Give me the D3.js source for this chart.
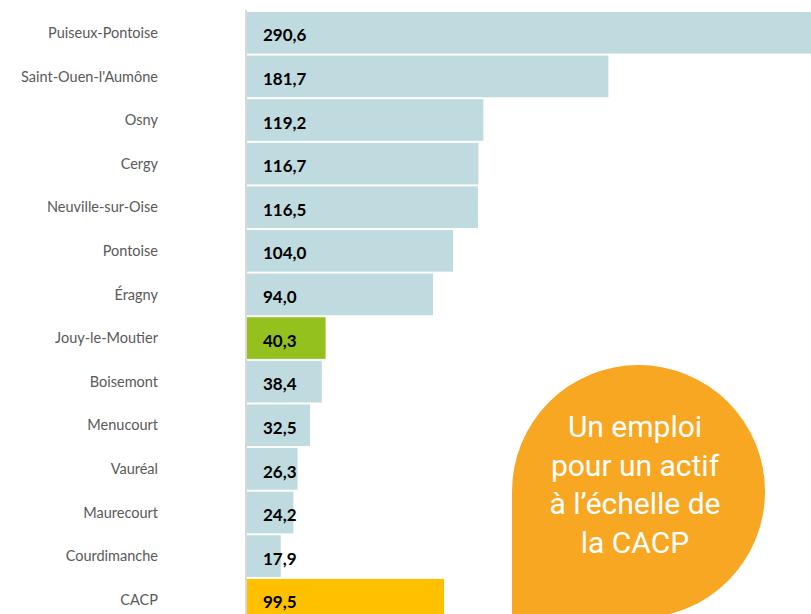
<!DOCTYPE html>
<html>
<head>
<meta charset="utf-8">
<script src="https://cdn.jsdelivr.net/npm/d3@7"></script>
<style>
  body { margin: 0; background: #fff; }
  svg { display: block; }
</style>
</head>
<body>
<div id="chart"></div>
<script>
// communes and their ratio (emplois pour 100 actifs)
var communes = ["Puiseux-Pontoise", "Saint-Ouen-l'Aumône", "Osny", "Cergy", "Neuville-sur-Oise",
    "Pontoise", "Éragny", "Jouy-le-Moutier", "Boisemont", "Menucourt", "Vauréal",
    "Maurecourt", "Courdimanche", "CACP"];
var valeurs = [290.6, 181.7, 119.2, 116.7, 116.5, 104.0, 94.0, 40.3, 38.4, 32.5, 26.3, 24.2, 17.9, 99.5];
var bulle = ["Un emploi", "pour un actif", "à l’échelle de", "la CACP"];

var width = 811, height = 614;

var svg = d3.select("#chart").append("svg")
    .attr("width", width)
    .attr("height", height);

var y = d3.scaleBand()
    .domain(communes)
    .range([10, 10 + communes.length * 43.75])
    .padding(0.045);

var x = d3.scaleLinear()
    .domain([0, 283])
    .range([245, 811]);

function couleur(d) {
    if (d == "Jouy-le-Moutier") return "#95c11f";
    if (d == "CACP") return "#ffc000";
    return "#bfdbdf";
}

var data = communes.map(function(c, i) { return { nom: c, val: valeurs[i] }; });

// bars
svg.selectAll(".bar")
    .data(data)
    .enter().append("rect")
    .attr("class", "bar")
    .attr("x", x(0))
    .attr("y", function(d) { return y(d.nom) })
    .attr("width", function(d) { return x(d.val) - x(0) })
    .attr("height", y.bandwidth())
    .attr("fill", function(d) { return couleur(d.nom) });

// axis line
svg.append("line")
    .attr("x1", 246).attr("x2", 246)
    .attr("y1", 10).attr("y2", height)
    .attr("stroke", "#d9d9d9")
    .attr("stroke-width", 2);

// category labels
svg.selectAll(".lab")
    .data(data)
    .enter().append("text")
    .attr("class", "lab")
    .attr("x", 158)
    .attr("y", function(d) { return y(d.nom) + y.bandwidth() / 2 })
    .attr("dy", "0.36em")
    .attr("text-anchor", "end")
    .attr("font-family", "Lato, sans-serif")
    .attr("font-size", "14.5px")
    .attr("fill", "#595959")
    .text(function(d) { return d.nom });

// value labels
svg.selectAll(".val")
    .data(data)
    .enter().append("text")
    .attr("class", "val")
    .attr("x", 263)
    .attr("y", function(d) { return y(d.nom) + y.bandwidth() / 2 + 2.5 })
    .attr("dy", "0.36em")
    .attr("font-family", "Lato, sans-serif")
    .attr("font-weight", "bold")
    .attr("font-size", "17px")
    .attr("fill", "#000")
    .text(function(d) { return d3.format(".1f")(d.val).replace(".", ",") });

// speech bubble
var cx = 638.5, cy = 491.5, r = 126.5;
var path = d3.path();
path.moveTo(cx - r, cy);
path.arc(cx, cy, r, Math.PI, 2.5 * Math.PI);
path.lineTo(cx - r, cy + r);
path.closePath();
svg.append("path")
    .attr("d", path.toString())
    .attr("fill", "#f8a722");

svg.selectAll(".bulle")
    .data(bulle)
    .enter().append("text")
    .attr("class", "bulle")
    .attr("x", 635)
    .attr("y", function(d, i) { return 437 + i * 38.5 })
    .attr("text-anchor", "middle")
    .attr("font-family", "Roboto, sans-serif")
    .attr("font-size", "30px")
    .attr("fill", "#fff")
    .text(function(d) { return d });
</script>
</body>
</html>
